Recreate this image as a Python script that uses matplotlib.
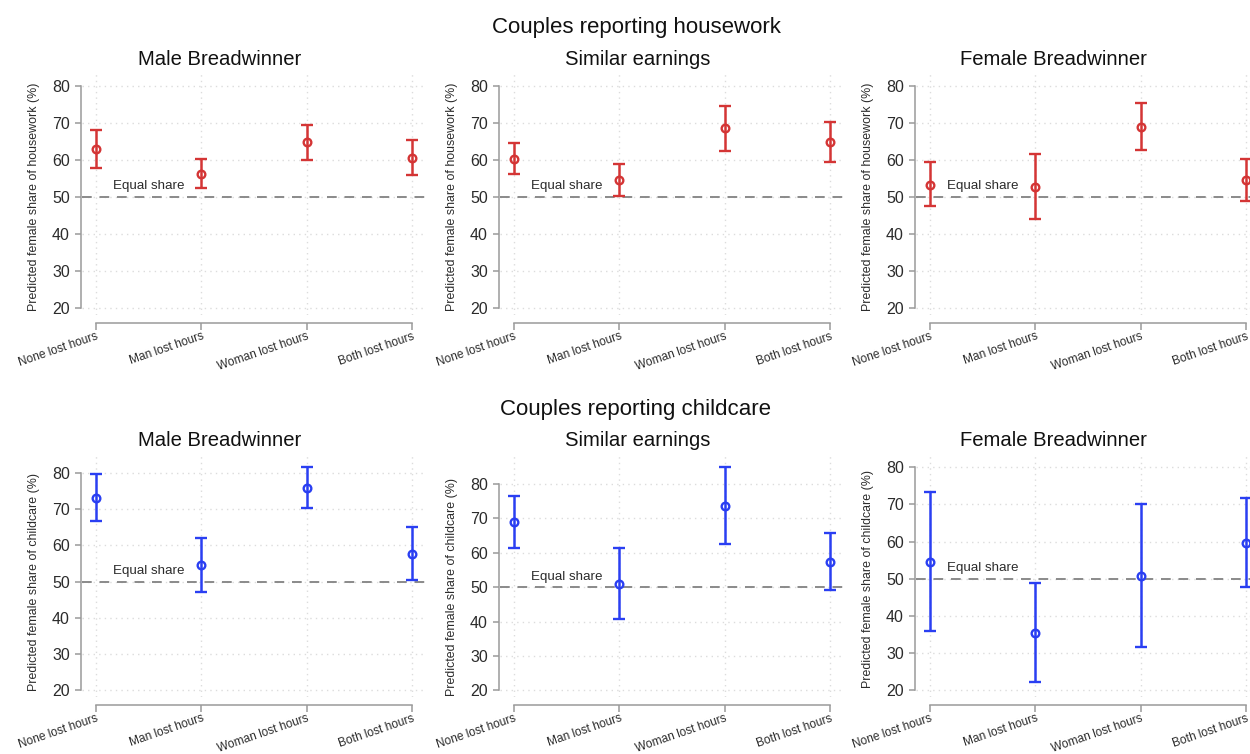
import numpy as np
import matplotlib
matplotlib.use("Agg")
import matplotlib.pyplot as plt
import matplotlib.transforms as mtransforms

plt.rcParams['font.family'] = ['Liberation Sans', 'DejaVu Sans']

categories = ["None lost hours", "Man lost hours", "Woman lost hours", "Both lost hours"]
groups = ["Male Breadwinner", "Similar earnings", "Female Breadwinner"]

# housework: estimate, lower CI, upper CI per earnings group
hw_est = [[63.0, 56.4, 64.9, 60.7], [60.4, 54.7, 68.6, 64.8], [53.4, 52.9, 68.9, 54.7]]
hw_lo = [[57.9, 52.6, 60.2, 55.9], [56.3, 50.4, 62.6, 59.5], [47.6, 44.1, 62.7, 49.0]]
hw_hi = [[68.2, 60.4, 69.6, 65.5], [64.6, 59.0, 74.6, 70.3], [59.4, 61.6, 75.4, 60.4]]

# childcare
cc_est = [[73.1, 54.6, 75.9, 57.7], [68.9, 51.0, 73.7, 57.4], [54.6, 35.5, 50.7, 59.6]]
cc_lo = [[66.6, 47.2, 70.2, 50.4], [61.3, 40.8, 62.6, 49.2], [35.9, 22.2, 31.6, 47.8]]
cc_hi = [[79.7, 62.0, 81.5, 65.1], [76.4, 61.4, 84.9, 65.7], [73.3, 48.9, 70.2, 71.6]]

rows = [
    ("Couples reporting housework", "Predicted female share of housework (%)", "#d43535", hw_est, hw_lo, hw_hi),
    ("Couples reporting childcare", "Predicted female share of childcare (%)", "#2a3ff2", cc_est, cc_lo, cc_hi),
]

W, H = 1250, 754
fig = plt.figure(figsize=(W / 100, H / 100), dpi=100)
fig.patch.set_facecolor("white")

lefts = [82, 500, 916]
row_top = [74, 455]
row_bot = [315, 697]
sup_y = [28, 409]
sub_y = [60, 440]
pw = 343
x = np.arange(1, 5)
axis_col = "#9a9a9a"
txt_col = "#2b2b2b"

for r, (sup, ylab, col, est_all, lo_all, hi_all) in enumerate(rows):
    fig.text(636 / W, 1 - sup_y[r] / H, sup, ha="center", va="center", fontsize=16, color="#111111")
    for g in range(3):
        ph = row_bot[r] - row_top[r]
        ax = fig.add_axes([lefts[g] / W, 1 - row_bot[r] / H, pw / W, ph / H])
        est = np.array(est_all[g])
        lo = np.array(lo_all[g])
        hi = np.array(hi_all[g])

        top = max(80, hi.max())
        rng = top - 20
        ax.set_ylim(20 - 0.03 * rng, top + 0.055 * rng)
        ax.set_xlim(0.867, 4.124)

        # grid
        for yy in range(20, 81, 10):
            ax.axhline(yy, color="#dcdcdc", lw=1.0, ls=(0, (1, 3)), zorder=0)
        for xx in x:
            ax.axvline(xx, color="#dcdcdc", lw=1.0, ls=(0, (1, 3)), zorder=0)

        ax.axhline(50, color="#8a8a8a", lw=1.4, ls=(0, (5, 4)), zorder=1)
        ax.text(1.5, 53, "Equal share", ha="center", va="center", fontsize=9.6, color=txt_col)

        ax.errorbar(x, est, yerr=[est - lo, hi - est], fmt="o", color=col, ecolor=col,
                    elinewidth=1.8, capsize=4, capthick=1.8, markersize=5.5,
                    markerfacecolor="none", markeredgewidth=1.7, zorder=3)

        for s in ["top", "right"]:
            ax.spines[s].set_visible(False)
        ax.spines["left"].set_position(("outward", 1))
        ax.spines["bottom"].set_position(("outward", 6))
        ax.spines["left"].set_bounds(20, 80)
        ax.spines["bottom"].set_bounds(1, 4)
        for s in ["left", "bottom"]:
            ax.spines[s].set_color(axis_col)
            ax.spines[s].set_linewidth(1.1)

        ax.set_yticks(range(20, 81, 10))
        ax.set_xticks(x)
        ax.set_xticklabels(categories, rotation=19, ha="right", va="top",
                           rotation_mode="anchor", fontsize=8.6, color=txt_col)
        ax.tick_params(axis="y", length=4.3, width=1.1, color=axis_col, labelsize=11.5,
                       labelcolor=txt_col, pad=3.5)
        ax.tick_params(axis="x", length=5.2, width=1.1, color=axis_col, pad=0)

        ax.set_ylabel(ylab, fontsize=8.9, color=txt_col)
        tr = mtransforms.blended_transform_factory(ax.transAxes, ax.transData)
        ax.yaxis.set_label_coords(-42 / pw, 50, transform=tr)

        ax.text(0.40, 1 + (row_top[r] - sub_y[r]) / ph, groups[g], transform=ax.transAxes,
                ha="center", va="center", fontsize=14.6, color="#111111")

fig.savefig("out.png", dpi=100)
